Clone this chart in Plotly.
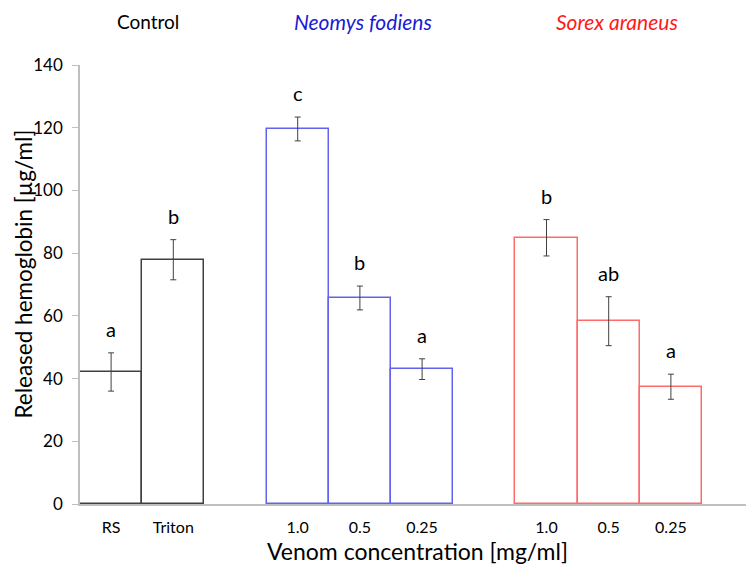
import plotly.graph_objects as go

# ---- data ----
positions = [0, 1, 3, 4, 5, 7, 8, 9]
tick_labels = ["RS", "Triton", "1.0", "0.5", "0.25", "1.0", "0.5", "0.25"]
values = [42.1, 77.9, 119.6, 65.7, 43.0, 84.9, 58.3, 37.4]
errors = [6.1, 6.4, 3.8, 3.8, 3.3, 5.8, 7.8, 4.0]
letters = ["a", "b", "c", "b", "a", "b", "ab", "a"]
groups = ["Control", "Neomys fodiens", "Sorex araneus"]
group_index = [0, 0, 1, 1, 1, 2, 2, 2]
group_title_x = [0.59, 4.05, 8.13]
group_colors = ["#404040", "#6262ee", "#ff6b6b"]
group_text_colors = ["#000000", "#1a1ad6", "#ff1a1a"]

FONT = "Lato, 'Open Sans', sans-serif"

# page body has an 8px margin; compensate so the plot area matches the reference
W, H = 754 - 8, 564 - 8
ML, MT, MB = 72, 57, 60
plot_h = H - MT - MB

fig = go.Figure()
for g in range(len(groups)):
    idx = [i for i, gi in enumerate(group_index) if gi == g]
    fig.add_trace(go.Bar(
        x=[positions[i] for i in idx],
        y=[values[i] for i in idx],
        width=1.0,
        marker=dict(color="white", line=dict(color=group_colors[g], width=1.5)),
        error_y=dict(type="data", array=[errors[i] for i in idx],
                     color="#404040", thickness=1, width=3),
        showlegend=False,
        hoverinfo="y",
    ))

for i, p in enumerate(positions):
    fig.add_annotation(x=p, y=values[i] + errors[i], text=letters[i],
                       showarrow=False, yanchor="middle", yshift=24,
                       font=dict(family=FONT, size=20, color="black"))

for g, name in enumerate(groups):
    txt = name if g == 0 else f"<i>{name}</i>"
    fig.add_annotation(x=group_title_x[g], xref="x",
                       y=1 + (65 - 22) / plot_h, yref="paper",
                       yanchor="middle", text=txt, showarrow=False,
                       font=dict(family=FONT, size=19 if g == 0 else 21,
                                 color=group_text_colors[g]))

# axis titles as annotations to control their placement
fig.add_annotation(x=0.5, xref="paper", y=0, yref="paper", yanchor="middle",
                   yshift=-(551 - 504), text="Venom concentration [mg/ml]",
                   showarrow=False,
                   font=dict(family=FONT, size=23, color="black"))
fig.add_annotation(x=0, xref="paper", xanchor="center", xshift=22.5 - 80,
                   y=0.5 + (284.5 - 274) / plot_h, yref="paper", yanchor="middle",
                   textangle=-90, text="Released hemoglobin [µg/ml]",
                   showarrow=False,
                   font=dict(family=FONT, size=22.5, color="black"))

fig.update_layout(
    width=W, height=H,
    margin=dict(l=ML, r=0, t=MT, b=MB, autoexpand=False),
    plot_bgcolor="white", paper_bgcolor="white",
    bargap=0,
    font=dict(family=FONT, color="black"),
    xaxis=dict(
        range=[-0.5, 10.336],
        tickvals=positions, ticktext=tick_labels,
        tickfont=dict(size=16, family=FONT, color="black"),
        ticks="", ticklabelstandoff=8,
        showline=True, linecolor="#bfbfbf", linewidth=1.5,
        showgrid=False, zeroline=False, layer="above traces",
    ),
    yaxis=dict(
        range=[0, 140], tickvals=[0, 20, 40, 60, 80, 100, 120, 140],
        tickfont=dict(size=17, family=FONT, color="black"),
        ticks="outside", ticklen=6, tickcolor="#bfbfbf", tickwidth=1,
        ticklabelstandoff=6,
        showline=True, linecolor="#bfbfbf", linewidth=1.5,
        showgrid=False, zeroline=False,
    ),
)

fig.write_html("out.html")
